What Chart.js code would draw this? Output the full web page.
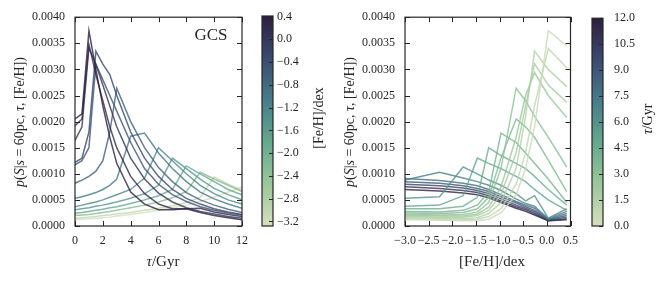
<!DOCTYPE html>
<html><head><meta charset="utf-8">
<script src="https://cdn.jsdelivr.net/npm/chart.js@4/dist/chart.umd.min.js"></script>
<style>
html,body{margin:0;padding:0;background:#fff;}
#wrap{position:relative;width:665px;height:281px;overflow:hidden;background:#fff;}
canvas{position:absolute;top:0;}
</style></head><body>
<div id="wrap">
<canvas id="c1" width="256" height="281" style="left:0px"></canvas>
<canvas id="c2" width="79" height="281" style="left:256px"></canvas>
<canvas id="c3" width="251" height="281" style="left:335px"></canvas>
<canvas id="c4" width="79" height="281" style="left:586px"></canvas>
</div>
<script>
// ---------------- DATA ----------------
// Left panel: p vs tau, one line per [Fe/H]
const tauGrid = [0, 0.5, 1, 1.5, 2, 2.5, 3, 4, 5, 6, 7, 8, 9, 10, 11, 12];
const leftFeh = [0.42, 0.2, 0.03, -0.26, -0.45, -0.65, -0.97, -1.23, -1.47, -1.77, -2.27, -3.0, -3.28];
const leftY = [
  [0.00205,0.00215,0.00374,0.0030,0.0023,0.0017,0.0012,0.00065,0.00042,0.00031,0.00031,0.00033,0.00026,0.0002,0.00016,0.00012],
  [0.00192,0.00205,0.00348,0.0029,0.0024,0.0019,0.0015,0.00095,0.00062,0.00042,0.00033,0.00033,0.00034,0.00027,0.00022,0.00018],
  [0.00164,0.0019,0.00341,0.0031,0.0027,0.0023,0.0019,0.0013,0.0009,0.00063,0.00046,0.00035,0.00028,0.00023,0.00018,0.00015],
  [0.00122,0.0013,0.0018,0.00335,0.0031,0.0029,0.0025,0.0018,0.0013,0.00095,0.0007,0.00053,0.00042,0.00033,0.00027,0.00022],
  [0.00117,0.00125,0.0015,0.0031,0.0028,0.0025,0.0022,0.0016,0.0011,0.0008,0.0006,0.00047,0.00037,0.0003,0.00025,0.00021],
  [0.00082,0.00088,0.00095,0.00105,0.00125,0.0018,0.00264,0.0020,0.0015,0.00112,0.00085,0.00064,0.0005,0.0004,0.00032,0.00026],
  [0.00053,0.00056,0.0006,0.00064,0.0007,0.00078,0.0009,0.00172,0.00178,0.0014,0.0011,0.00085,0.00065,0.00052,0.00042,0.00034],
  [0.00037,0.0004,0.00043,0.00046,0.0005,0.00055,0.0006,0.0007,0.00092,0.0015,0.00125,0.001,0.00078,0.00062,0.0005,0.00042],
  [0.00031,0.00033,0.00035,0.00038,0.0004,0.00043,0.00046,0.00053,0.00062,0.00078,0.0013,0.0011,0.0009,0.00072,0.0006,0.0005],
  [0.00025,0.00026,0.00028,0.0003,0.00032,0.00035,0.00037,0.00043,0.0005,0.00058,0.0007,0.00115,0.001,0.00085,0.0007,0.0006],
  [0.0002,0.00021,0.00022,0.00024,0.00026,0.00028,0.0003,0.00035,0.0004,0.00046,0.00054,0.00066,0.00103,0.0009,0.00078,0.00066],
  [0.00015,0.00016,0.00017,0.00018,0.0002,0.00021,0.00023,0.00026,0.0003,0.00034,0.00039,0.00045,0.00055,0.00094,0.0008,0.00069],
  [0.00012,0.00013,0.00014,0.00015,0.00016,0.00017,0.00019,0.00022,0.00026,0.0003,0.00035,0.0004,0.00047,0.00055,0.00065,0.00075]
];
// Right panel: p vs [Fe/H], one line per tau
const fehGrid = [-3.0, -2.27, -1.77, -1.47, -1.23, -0.97, -0.65, -0.45, -0.26, 0.03, 0.42];
const rightTau = [0.5, 1.0, 1.5, 2.0, 2.5, 3.0, 3.5, 4.0, 4.5, 5.0, 6.0, 7.0, 8.0, 9.0, 10.0, 11.0, 12.0];
const rightY = [
  [0.00012,0.00011,0.0001,0.0001,0.00013,0.00025,0.0006,0.0011,0.0019,0.00374,0.00345],
  [0.00014,0.00013,0.00012,0.00013,0.00018,0.00033,0.0008,0.0014,0.0023,0.0034,0.00303],
  [0.00016,0.00015,0.00014,0.00016,0.00024,0.00045,0.0011,0.0021,0.00335,0.0030,0.00267],
  [0.00018,0.00017,0.00017,0.0002,0.0003,0.0006,0.0014,0.0023,0.00311,0.0027,0.00237],
  [0.0002,0.00019,0.00019,0.00023,0.00036,0.00075,0.0017,0.0025,0.00294,0.0025,0.00208],
  [0.00022,0.00021,0.00022,0.00027,0.00045,0.0011,0.00264,0.0024,0.0021,0.0017,0.00113],
  [0.00025,0.00024,0.00026,0.00033,0.00055,0.0013,0.00205,0.0019,0.0017,0.00126,0.00066],
  [0.00028,0.00027,0.0003,0.0004,0.00065,0.00178,0.0016,0.0014,0.0012,0.0009,0.00045],
  [0.00033,0.00033,0.00038,0.00055,0.0015,0.00135,0.0012,0.0011,0.00095,0.0007,0.0004],
  [0.00038,0.0004,0.00058,0.0013,0.0012,0.0011,0.00095,0.00085,0.0007,0.0005,0.0003],
  [0.00053,0.00056,0.00113,0.001,0.00088,0.00078,0.00062,0.00048,0.00058,0.00015,0.00033],
  [0.00088,0.00103,0.00092,0.00085,0.00078,0.00068,0.00052,0.00043,0.00038,0.00014,0.00028],
  [0.00091,0.00087,0.00082,0.00077,0.0007,0.0006,0.00047,0.0004,0.00034,0.00013,0.00024],
  [0.00085,0.00082,0.00077,0.00072,0.00066,0.00056,0.00044,0.00037,0.0003,0.00012,0.0002],
  [0.0008,0.00077,0.00073,0.00068,0.00062,0.00052,0.0004,0.00034,0.00027,0.00011,0.00017],
  [0.00075,0.00072,0.00068,0.00064,0.00058,0.00048,0.00037,0.00031,0.00024,0.0001,0.00014],
  [0.0007,0.00067,0.00063,0.0006,0.00054,0.00045,0.00034,0.00028,0.00021,0.0001,0.00012]
];
// ticks
const yTicks = [0, 0.0005, 0.001, 0.0015, 0.002, 0.0025, 0.003, 0.0035, 0.004];
const xTicksLeft = [0, 2, 4, 6, 8, 10, 12];
const xTicksRight = [-3.0, -2.5, -2.0, -1.5, -1.0, -0.5, 0.0, 0.5];
const cbLeftTicks = [0.4, 0.0, -0.4, -0.8, -1.2, -1.6, -2.0, -2.4, -2.8, -3.2];
const cbRightTicks = [0, 1.5, 3, 4.5, 6, 7.5, 9, 10.5, 12];
const fehRange = [-3.28, 0.41];
const tauRange = [0, 12];

// ---------------- STYLE ----------------
const INK = '#262626';
const SERIF = '"Liberation Serif","DejaVu Serif",serif';
const TICKFONT = {family: SERIF, size: 12};
function cubehelix(x){
  const start=0.5, rot=-0.75, hue=0.8;
  const a = hue*x*(1-x)/2, phi = 2*Math.PI*(start/3 + rot*x);
  const c=Math.cos(phi), s=Math.sin(phi);
  const cl=v=>Math.max(0,Math.min(1,v));
  return [cl(x+a*(-0.14861*c+1.78277*s)), cl(x+a*(-0.29227*c-0.90649*s)), cl(x+a*(1.97294*c))];
}
const anchors = [0,1,2,3,4,5].map(k=>cubehelix(0.85-0.7*k/5));
function cmap(t, alpha){
  t=Math.max(0,Math.min(1,t));
  const p=t*5, i=Math.min(4,Math.floor(p)), f=p-i;
  const c=anchors[i].map((v,j)=>Math.round(255*(v+(anchors[i+1][j]-v)*f)));
  return alpha===undefined?`rgb(${c[0]},${c[1]},${c[2]})`:`rgba(${c[0]},${c[1]},${c[2]},${alpha})`;
}
const minus = s => s.replace('-', '\u2212');

function drawRich(ctx, segs, x, y, rot, size){
  ctx.save(); ctx.translate(x,y); ctx.rotate(rot);
  ctx.textBaseline='middle'; ctx.textAlign='left'; ctx.fillStyle=INK;
  const fonts = segs.map(s=>(s[1]?'italic ':'')+size+'px '+SERIF);
  let total=0; const ws=segs.map((s,i)=>{ctx.font=fonts[i]; const w=ctx.measureText(s[0]).width; total+=w; return w;});
  let cx=-total/2;
  segs.forEach((s,i)=>{ctx.font=fonts[i]; ctx.fillText(s[0],cx,0); cx+=ws[i];});
  ctx.restore();
}
const yLabelSegs = [['p',1],['(',0],['S',1],['|',0],['s',1],[' = ',0],['60pc',0],[', ',0],['τ',1],[', ',0],['[Fe/H]',0],[')',0]];

const framePlugin = {
  id:'frame',
  afterDraw(chart, args, o){
    const ctx=chart.ctx, a=chart.chartArea;
    ctx.save();
    if(o.grad){
      const ys=chart.scales.y;
      const y0=ys.getPixelForValue(o.range[0]), y1=ys.getPixelForValue(o.range[1]);
      const g=ctx.createLinearGradient(0,y0,0,y1);
      for(let k=0;k<=60;k++) g.addColorStop(k/60, cmap(k/60));
      ctx.fillStyle=g; ctx.fillRect(a.left,y1,a.right-a.left,y0-y1);
    }
    ctx.strokeStyle=INK; ctx.lineWidth=1.2;
    ctx.strokeRect(a.left,a.top,a.right-a.left,a.bottom-a.top);
    ctx.lineWidth=1; ctx.beginPath();
    const L=o.tick||5;
    if(chart.scales.x && chart.scales.x.options.display!==false){
      chart.scales.x.ticks.forEach(t=>{const p=Math.round(chart.scales.x.getPixelForValue(t.value))+0.5;
        ctx.moveTo(p,a.bottom);ctx.lineTo(p,a.bottom-L);ctx.moveTo(p,a.top);ctx.lineTo(p,a.top+L);});
    }
    chart.scales.y.ticks.forEach(t=>{const p=Math.round(chart.scales.y.getPixelForValue(t.value))+0.5;
      if(!o.grad){ctx.moveTo(a.left,p);ctx.lineTo(a.left+L,p);}
      ctx.moveTo(a.right,p);ctx.lineTo(a.right-L,p);});
    ctx.stroke();
    (o.texts||[]).forEach(t=>drawRich(ctx,t.segs,t.x,t.y,t.rot,t.size));
    ctx.restore();
  }
};

function mainChart(id, xGrid, series, cvals, crange, xmin, xmax, xticks, xfmt, yAxisW, rightPad, texts){
  const datasets = series.map((vals,i)=>({
    data: xGrid.map((x,j)=>({x:x,y:vals[j]})),
    borderColor: cmap((cvals[i]-crange[0])/(crange[1]-crange[0]), 0.8),
    borderWidth:1.5, pointRadius:0, fill:false, tension:0
  }));
  return new Chart(document.getElementById(id), {
    type:'line', data:{datasets},
    options:{
      responsive:false, animation:false, events:[],
      layout:{padding:{left:0,right:rightPad,top:16,bottom:0}},
      plugins:{legend:{display:false},tooltip:{enabled:false},frame:{texts}},
      scales:{
        x:{type:'linear',min:xmin,max:xmax,
           afterBuildTicks:s=>{s.ticks=xticks.map(v=>({value:v}));},
           afterFit:s=>{s.height=55;},
           grid:{display:false,drawTicks:false},border:{display:false},
           ticks:{padding:8,font:TICKFONT,color:INK,autoSkip:false,maxRotation:0,callback:v=>xfmt(v)}},
        y:{type:'linear',min:0,max:0.004,
           afterBuildTicks:s=>{s.ticks=yTicks.map(v=>({value:v}));},
           afterFit:s=>{s.width=yAxisW;},
           grid:{display:false,drawTicks:false},border:{display:false},
           ticks:{padding:10,font:TICKFONT,color:INK,autoSkip:false,callback:v=>v.toFixed(4)}}
      }
    },
    plugins:[framePlugin]
  });
}

function colorbar(id, range, ticks, fmt, pad, texts){
  return new Chart(document.getElementById(id), {
    type:'line', data:{datasets:[]},
    options:{
      responsive:false, animation:false, events:[],
      layout:{padding:{left:6,right:0,top:16,bottom:55}},
      plugins:{legend:{display:false},tooltip:{enabled:false},frame:{grad:true,range,texts,tick:4}},
      scales:{
        x:{display:false},
        y:{type:'linear',position:'right',min:range[0],max:range[1],
           afterBuildTicks:s=>{s.ticks=ticks.map(v=>({value:v}));},
           afterFit:s=>{s.width=62;},
           grid:{display:false,drawTicks:false},border:{display:false},
           ticks:{padding:pad,font:TICKFONT,color:INK,autoSkip:false,callback:v=>fmt(v)}}
      }
    },
    plugins:[framePlugin]
  });
}

mainChart('c1', tauGrid, leftY, leftFeh, fehRange, 0, 12, xTicksLeft, v=>String(v), 75, 5, [
  {segs:yLabelSegs,x:20,y:122,rot:-Math.PI/2,size:14},
  {segs:[['τ',1],['/Gyr',0]],x:163,y:262,rot:0,size:15},
  {segs:[['GCS',0]],x:211,y:36,rot:0,size:17}
]);
colorbar('c2', fehRange, cbLeftTicks, v=>minus(v.toFixed(1)), 4, [
  {segs:[['[Fe/H]/dex',0]],x:63,y:118,rot:-Math.PI/2,size:14}
]);
mainChart('c3', fehGrid, rightY, rightTau, tauRange, -3.0, 0.5, xTicksRight, v=>minus(v.toFixed(1)), 70, 6, [
  {segs:yLabelSegs,x:15,y:122,rot:-Math.PI/2,size:14},
  {segs:[['[Fe/H]/dex',0]],x:157,y:262,rot:0,size:15}
]);
colorbar('c4', tauRange, cbRightTicks, v=>v.toFixed(1), 11, [
  {segs:[['τ',1],['/Gyr',0]],x:62,y:119,rot:-Math.PI/2,size:14}
]);
</script>
</body></html>
